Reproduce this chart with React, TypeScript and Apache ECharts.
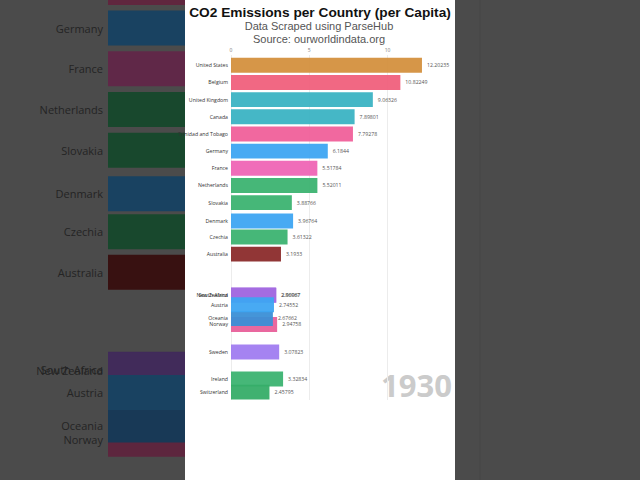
import React, { useEffect, useRef } from "react";
import * as echarts from "echarts";

const TITLE = "CO2 Emissions per Country (per Capita)";
const SUBTITLE_1 = "Data Scraped using ParseHub";
const SUBTITLE_2 = "Source: ourworldindata.org";
const YEAR = "1930";

const COUNTRIES = [
  "United States", "Belgium", "United Kingdom", "Canada", "Trinidad and Tobago",
  "Germany", "France", "Netherlands", "Slovakia", "Denmark", "Czechia", "Australia",
  "South Africa", "New Zealand", "Norway", "Oceania", "Austria", "Sweden", "Ireland", "Switzerland",
];
const VALUES = [
  12.20235, 10.82249, 9.06326, 7.89801, 7.79278,
  6.1844, 5.51784, 5.52011, 3.88766, 3.96764, 3.61322, 3.1933,
  2.86967, 2.90067, 2.94758, 2.67662, 2.74552, 3.07823, 3.32834, 2.45795,
];
// interpolated rank positions (bar-chart-race mid-transition)
const RANKS = [
  1, 2, 3, 4, 5,
  6, 7, 8, 9, 10.07, 11, 12,
  14.38, 14.4, 16.1, 15.75, 14.95, 17.7, 19.28, 20.04,
];
const COLORS = [
  "#d4903e", "#f0607c", "#3bb3c3", "#3bb3c3", "#f0609a",
  "#3ea5f2", "#ef65b5", "#3cb371", "#3cb371", "#3ea5f2", "#3cb371", "#8b2b2b",
  "#a36be0", "#a36be0", "#e8609a", "#3b8fd6", "#3ea5f2", "#a07cf0", "#3cb371", "#36ad68",
];
const X_TICKS_MAX = 14;

function darken(hex: string, f: number) {
  const n = parseInt(hex.slice(1), 16);
  const r = Math.round(((n >> 16) & 255) * f);
  const g = Math.round(((n >> 8) & 255) * f);
  const b = Math.round((n & 255) * f);
  return `rgb(${r},${g},${b})`;
}

function makeRender(opts: { bandFrac: number; nameSize: number; valueSize: number; nameColor: string; valueColor: string; showValue: boolean; dark: boolean; namePad: number; font: string }) {
  return (params: any, api: any) => {
    const i = params.dataIndex;
    const v = api.value(0);
    const r = api.value(1);
    const s = api.coord([0, r]);
    const e = api.coord([v, r]);
    const h = api.size([0, opts.bandFrac])[1];
    const cs = params.coordSys;
    const rect = echarts.graphic.clipRectByRect(
      { x: s[0], y: s[1] - h / 2, width: e[0] - s[0], height: h },
      { x: cs.x, y: cs.y, width: cs.width, height: cs.height }
    );
    const children: any[] = [];
    if (rect) {
      children.push({
        type: "rect",
        shape: rect,
        style: { fill: opts.dark ? darken(COLORS[i], 0.4) : COLORS[i], opacity: opts.dark ? 1 : 0.95 },
      });
    }
    const inside = s[1] - opts.nameSize / 2 >= cs.y && s[1] + opts.nameSize / 2 <= cs.y + cs.height;
    if (inside) {
      children.push({
        type: "text",
        x: s[0] - opts.namePad,
        y: s[1],
        style: {
          text: COUNTRIES[i],
          align: "right",
          verticalAlign: "middle",
          fontSize: opts.nameSize,
          fontFamily: opts.font,
          fill: opts.nameColor,
        },
      });
    }
    if (opts.showValue) {
      children.push({
        type: "text",
        x: e[0] + 5,
        y: s[1],
        style: {
          text: String(VALUES[i]),
          align: "left",
          verticalAlign: "middle",
          fontSize: opts.valueSize,
          fontFamily: opts.font,
          fill: opts.valueColor,
        },
      });
    }
    return { type: "group", children };
  };
}

export default function App() {
  const ref = useRef<HTMLDivElement>(null);
  useEffect(() => {
    if (!ref.current) return;
    const chart = echarts.init(ref.current, undefined, { renderer: "svg" });
    const data = VALUES.map((v, i) => [v, RANKS[i]]);
    chart.setOption({
      animation: false,
      backgroundColor: "#4b4b4b",
      grid: [
        { left: 231, right: 640 - (231 + X_TICKS_MAX * 15.65), top: 55, bottom: 80, containLabel: false },
        { left: 108, right: 455, top: 0, bottom: 0, containLabel: false },
      ],
      xAxis: [
        {
          gridIndex: 0,
          type: "value",
          position: "top",
          min: 0,
          max: X_TICKS_MAX,
          interval: 5,
          axisLine: { show: false },
          axisTick: { show: false },
          axisLabel: { fontSize: 5, color: "#777", margin: 3, fontFamily: "Open Sans", showMaxLabel: false },
          splitLine: { show: true, showMaxLine: false, lineStyle: { color: "#ececec", width: 1 } },
        },
        {
          gridIndex: 1,
          type: "value",
          min: 0,
          max: 2,
          show: false,
        },
      ],
      yAxis: [
        { gridIndex: 0, type: "value", inverse: true, min: 0.4, max: 20.5, show: false },
        { gridIndex: 1, type: "value", inverse: true, min: 5.31, max: 17.1, show: false },
      ],
      graphic: [
        { type: "rect", z: -10, shape: { x: 185, y: 0, width: 270, height: 480 }, style: { fill: "#ffffff" } },
        { type: "line", z: -10, shape: { x1: 480, y1: 0, x2: 480, y2: 480 }, style: { stroke: "#464646", lineWidth: 1 } },
        {
          type: "text", x: 320, y: 12,
          style: { text: TITLE, align: "center", verticalAlign: "middle", fontSize: 13.7, fontWeight: "bold", fontFamily: "Liberation Sans", fill: "#111" },
        },
        {
          type: "text", x: 319, y: 26,
          style: { text: SUBTITLE_1, align: "center", verticalAlign: "middle", fontSize: 11, fontFamily: "Liberation Sans", fill: "#555" },
        },
        {
          type: "text", x: 319, y: 38.5,
          style: { text: SUBTITLE_2, align: "center", verticalAlign: "middle", fontSize: 11, fontFamily: "Liberation Sans", fill: "#555" },
        },
        {
          type: "text", x: 452, y: 385,
          style: { text: YEAR, align: "right", verticalAlign: "middle", fontSize: 31, fontWeight: "bold", fontFamily: "Open Sans", fill: "#cbcbcb" },
        },
      ],
      series: [
        {
          type: "custom",
          xAxisIndex: 1,
          yAxisIndex: 1,
          data,
          renderItem: makeRender({ bandFrac: 0.86, nameSize: 11, valueSize: 11, nameColor: "#242424", valueColor: "#242424", showValue: false, dark: true, namePad: 5, font: "Open Sans" }),
        },
        {
          type: "custom",
          xAxisIndex: 0,
          yAxisIndex: 0,
          data,
          renderItem: makeRender({ bandFrac: 0.87, nameSize: 5.2, valueSize: 5.2, nameColor: "#333", valueColor: "#555", showValue: true, dark: false, namePad: 3, font: "Open Sans" }),
        },
      ],
    });
    return () => chart.dispose();
  }, []);
  return <div ref={ref} style={{ position: "fixed", left: 0, top: 0, width: 640, height: 480 }} />;
}
